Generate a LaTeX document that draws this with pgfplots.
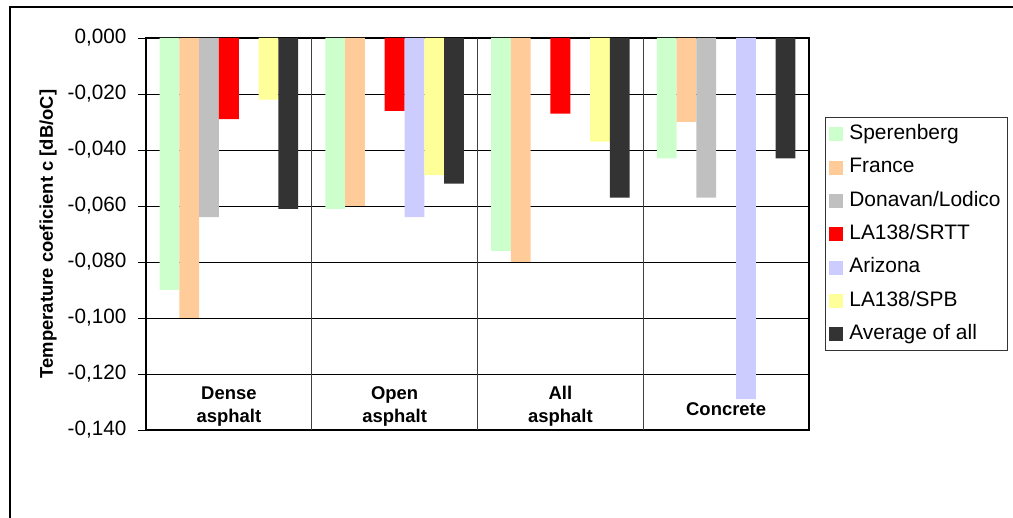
\documentclass[border=0pt]{standalone}
\usepackage{pgfplots}
\pgfplotsset{compat=1.18}
\usepackage{fontspec}
\setmainfont{Liberation Sans}

\definecolor{cSper}{HTML}{CCFFCC}
\definecolor{cFrance}{HTML}{FFCC99}
\definecolor{cDona}{HTML}{C0C0C0}
\definecolor{cSRTT}{HTML}{FF0000}
\definecolor{cAriz}{HTML}{CCCCFF}
\definecolor{cSPB}{HTML}{FFFF99}
\definecolor{cAvg}{HTML}{333333}

\begin{document}
\begin{tikzpicture}
\useasboundingbox (0,0) rectangle (1013bp,518bp);
% outer chart frame (cropped on right and bottom)
\draw[line width=1.5bp] (10bp,-5bp) -- (10bp,511bp) -- (1020bp,511bp);
\begin{axis}[
  at={(146bp,88bp)}, anchor=south west,
  scale only axis, width=663bp, height=392bp,
  ybar=0pt, bar width=0.1193,
  xmin=-0.5, xmax=3.5, ymin=-0.14, ymax=0,
  xtick={0,1,2,3},
  xticklabels={{Dense\\asphalt},{Open\\asphalt},{All\\asphalt},{\raisebox{11bp}{Concrete}}},
  xticklabel style={align=center, anchor=south, yshift=8bp,
    font=\fontsize{18.5}{23}\selectfont\bfseries},
  xtick style={draw=none},
  extra x ticks={0.5,1.5,2.5},
  extra x tick labels={},
  extra x tick style={grid=major, major grid style={black!75, line width=0.8bp}},
  ytick={-0.14,-0.12,-0.10,-0.08,-0.06,-0.04,-0.02,0},
  ymajorgrids=true,
  major grid style={black, line width=0.8bp},
  tick align=outside, major tick length=8bp,
  ytick style={black, line width=0.8bp},
  tick pos=left,
  yticklabel style={font=\fontsize{20.8}{24}\selectfont, xshift=-8bp,
    /pgf/number format/fixed, /pgf/number format/fixed zerofill,
    /pgf/number format/precision=3, /pgf/number format/use comma,
    /pgf/number format/assume math mode=true},
  ylabel={Temperature coeficient c [dB/oC]},
  ylabel style={at={(axis description cs:-0.1478,0.5)}, anchor=center,
    font=\fontsize{18.5}{22}\selectfont\bfseries},
  axis line style={black, line width=1.2bp},
  legend style={at={(1.0241,0.798)}, anchor=north west,
    draw=black!80, line width=0.8bp, inner sep=4bp,
    font=\fontsize{21}{24}\selectfont,
    row sep=7.8bp,
    nodes={inner sep=3bp, text height=15bp, text depth=4.5bp},
    /tikz/every odd column/.append style={column sep=3bp}},
  legend cell align=left,
  legend image code/.code={\fill[#1] (3bp,-7bp) rectangle (17bp,7bp);},
]
\addplot[fill=cSper, draw=none] coordinates {(0,-0.090) (1,-0.061) (2,-0.076) (3,-0.043)};
\addlegendentry{Sperenberg}
\addplot[fill=cFrance, draw=none] coordinates {(0,-0.100) (1,-0.060) (2,-0.080) (3,-0.030)};
\addlegendentry{France}
\addplot[fill=cDona, draw=none] coordinates {(0,-0.064) (3,-0.057)};
\addlegendentry{Donavan/Lodico}
\addplot[fill=cSRTT, draw=none] coordinates {(0,-0.029) (1,-0.026) (2,-0.027)};
\addlegendentry{LA138/SRTT}
\addplot[fill=cAriz, draw=none] coordinates {(1,-0.064) (3,-0.129)};
\addlegendentry{Arizona}
\addplot[fill=cSPB, draw=none] coordinates {(0,-0.022) (1,-0.049) (2,-0.037)};
\addlegendentry{LA138/SPB}
\addplot[fill=cAvg, draw=none] coordinates {(0,-0.061) (1,-0.052) (2,-0.057) (3,-0.043)};
\addlegendentry{Average of all}
\end{axis}
\end{tikzpicture}
\end{document}
